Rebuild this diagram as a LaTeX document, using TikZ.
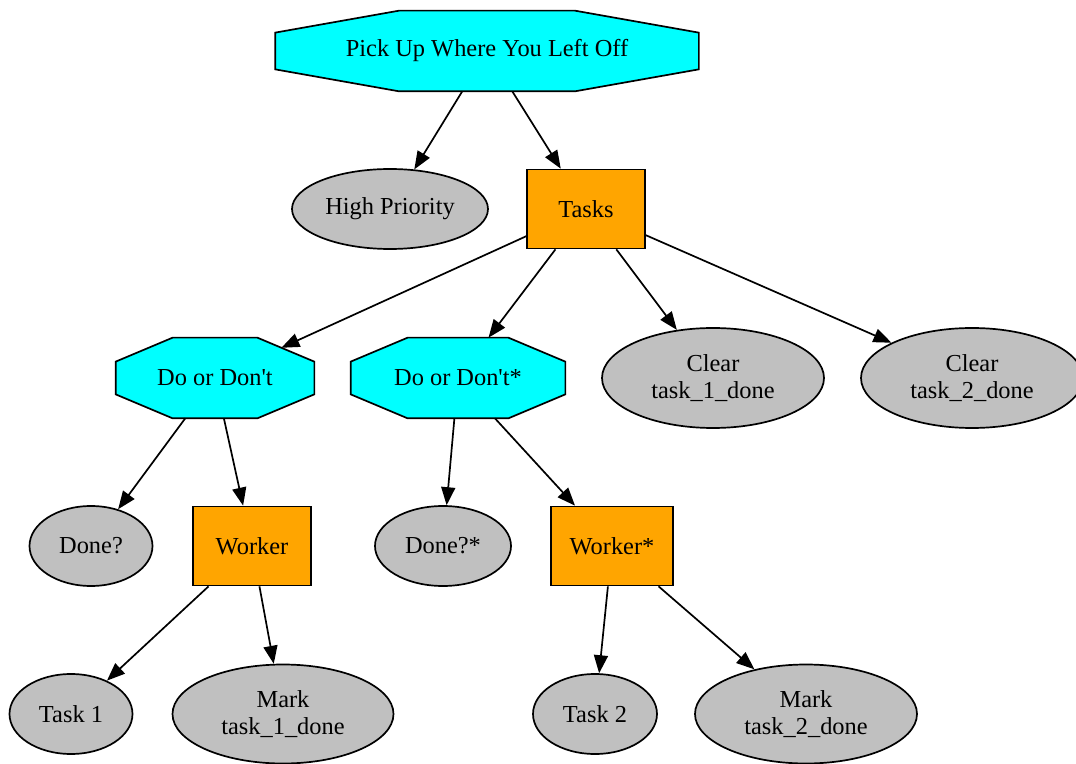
\documentclass[tikz,border=0pt]{standalone}
\usepackage{fontspec}
\setmainfont{Liberation Serif}
\usetikzlibrary{shapes.geometric,arrows.meta,calc,intersections}
\definecolor{gvcyan}{RGB}{0,255,255}
\definecolor{gvorange}{RGB}{255,165,0}
\definecolor{gvgray}{RGB}{192,192,192}
\pgfdeclarelayer{bg}
\pgfsetlayers{bg,main}
\newcommand{\octshape}[4]{% name, dx, dy, path name
  \begin{pgfonlayer}{bg}
  \draw[octfill,name path=#4]
    ($(#1.north west)+(#2,0)$) -- ($(#1.north east)+(-#2,0)$) --
    ($(#1.north east)+(0,#3)$) -- ($(#1.south east)+(0,-#3)$) --
    ($(#1.south east)+(-#2,0)$) -- ($(#1.south west)+(#2,0)$) --
    ($(#1.south west)+(0,-#3)$) -- ($(#1.north west)+(0,#3)$) -- cycle;
  \end{pgfonlayer}}
\begin{document}
\begin{tikzpicture}[x=0.5pt,y=-0.5pt,
  every node/.style={draw=black,line width=0.85pt,inner sep=0pt,align=center,
    font=\fontsize{12.2}{13.5}\selectfont},
  octo/.style={rectangle,draw=none},
  octfill/.style={fill=gvcyan,draw=black,line width=0.85pt},
  boxnode/.style={rectangle,fill=gvorange,minimum width=59pt,minimum height=39.5pt},
  ell/.style={ellipse,fill=gvgray},
  edge/.style={line width=0.85pt,-{Triangle[length=9pt,width=7pt]}}]
\useasboundingbox (0,0) rectangle (1076,764);
\node[octo,minimum width=211pt,minimum height=39.5pt] (root) at (487,51) {Pick Up Where You Left Off};
\octshape{root}{124}{22}{rootoct}
\node[ell,minimum width=98pt,minimum height=40pt] (hp) at (390,209) {High Priority};
\node[boxnode] (tasks) at (586,209) {Tasks};
\node[octo,minimum width=98.5pt,minimum height=39.5pt] (dod) at (215,378) {Do or Don\textquotesingle t};
\octshape{dod}{57}{24}{dodoct}
\node[octo,minimum width=106.5pt,minimum height=39.5pt] (dods) at (458,378) {Do or Don\textquotesingle t*};
\octshape{dods}{57}{24}{dodsoct}
\node[ell,minimum width=111pt,minimum height=50pt] (c1) at (713,378) {Clear\\task\_1\_done};
\node[ell,minimum width=111pt,minimum height=50pt] (c2) at (972,378) {Clear\\task\_2\_done};
\node[ell,minimum width=61.5pt,minimum height=40pt] (done) at (91,546) {Done?};
\node[boxnode] (worker) at (252,546) {Worker};
\node[ell,minimum width=68pt,minimum height=40pt] (dones) at (443,546) {Done?*};
\node[boxnode,minimum width=61pt] (workers) at (612,546) {Worker*};
\node[ell,minimum width=61.5pt,minimum height=40pt] (t1) at (71,714) {Task 1};
\node[ell,minimum width=110.5pt,minimum height=49.5pt] (m1) at (283,714) {Mark\\task\_1\_done};
\node[ell,minimum width=62pt,minimum height=40pt] (t2) at (595,714) {Task 2};
\node[ell,minimum width=111pt,minimum height=49.5pt] (m2) at (806,714) {Mark\\task\_2\_done};
\path[name path=tdline] (tasks.center) -- (dod.center);
\path[name intersections={of=dodoct and tdline, by=dodin}];
\draw[edge] (root) -- (hp);
\draw[edge] (root) -- (tasks);
\draw[edge] (tasks) -- (dodin);
\draw[edge] (tasks) -- (dods);
\draw[edge] (tasks) -- (c1);
\draw[edge] (tasks) -- (c2);
\draw[edge] (dod) -- (done);
\draw[edge] (dod) -- (worker);
\draw[edge] (dods) -- (dones);
\draw[edge] (dods) -- (workers);
\draw[edge] (worker) -- (t1);
\draw[edge] (worker) -- (m1);
\draw[edge] (workers) -- (t2);
\draw[edge] (workers) -- (m2);
\end{tikzpicture}
\end{document}
